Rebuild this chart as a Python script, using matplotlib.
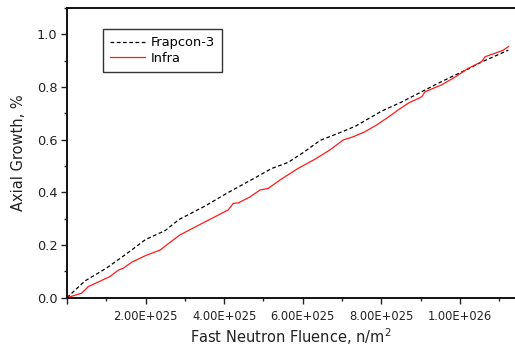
import matplotlib
matplotlib.use("Agg")
import matplotlib.pyplot as plt
from matplotlib.ticker import MultipleLocator, FuncFormatter

# Fast neutron fluence in units of 1e25 n/m^2, axial growth in %
frapcon_fluence = [0, 0.45, 1.0, 1.5, 2.0, 2.5, 2.85, 3.5, 4.06, 4.5, 4.83, 5.2,
                   5.63, 6.0, 6.45, 7.0, 7.35, 8.0, 8.5, 9.0, 9.36, 9.8, 10.2,
                   10.55, 10.9, 11.23]
frapcon_growth = [0, 0.063, 0.112, 0.165, 0.221, 0.255, 0.297, 0.347, 0.396,
                  0.432, 0.459, 0.49, 0.514, 0.55, 0.598, 0.63, 0.652, 0.708,
                  0.742, 0.78, 0.808, 0.84, 0.868, 0.895, 0.918, 0.94]

infra_fluence = [0, 0.37, 0.54, 1.09, 1.31, 1.43, 1.65, 2.0, 2.37, 2.62, 2.87,
                 3.5, 4.1, 4.23, 4.36, 4.66, 4.91, 5.12, 5.42, 5.88, 6.3, 6.69,
                 7.03, 7.3, 7.58, 7.88, 8.15, 8.43, 8.7, 9.03, 9.11, 9.53, 9.9,
                 10.21, 10.55, 10.64, 10.89, 11.1, 11.23]
infra_growth = [0, 0.017, 0.042, 0.08, 0.105, 0.112, 0.135, 0.16, 0.181, 0.21,
                0.238, 0.287, 0.333, 0.358, 0.36, 0.383, 0.409, 0.415, 0.447,
                0.491, 0.525, 0.561, 0.599, 0.612, 0.63, 0.656, 0.683, 0.713,
                0.74, 0.763, 0.782, 0.808, 0.84, 0.871, 0.896, 0.915, 0.928,
                0.94, 0.953]

SCALE = 1e25
x_frap = [v * SCALE for v in frapcon_fluence]
x_infra = [v * SCALE for v in infra_fluence]

plt.rcParams['font.family'] = ['DejaVu Sans']

fig = plt.figure(figsize=(5.15, 3.47), dpi=100)
ax = fig.add_axes([67 / 515, (347 - 297.7) / 347, (515 - 67) / 515, (297.7 - 8) / 347])

ax.plot(x_frap, frapcon_growth, color='black', lw=0.9, ls=(0, (3, 2)),
        label='Frapcon-3')
ax.plot(x_infra, infra_growth, color='#ff1a1a', lw=0.9, label='Infra')

ax.set_xlim(0, 11.4 * SCALE)
ax.set_ylim(0, 1.1)

ax.xaxis.set_major_locator(MultipleLocator(2 * SCALE))
ax.xaxis.set_minor_locator(MultipleLocator(1 * SCALE))
ax.yaxis.set_major_locator(MultipleLocator(0.2))
ax.yaxis.set_minor_locator(MultipleLocator(0.1))


def sci_fmt(v, pos):
    if v <= 0:
        return ''
    exp = 0
    m = v
    while m >= 10:
        m /= 10
        exp += 1
    return f'{m:.2f}E+{exp:03d}'


ax.xaxis.set_major_formatter(FuncFormatter(sci_fmt))
ax.yaxis.set_major_formatter(FuncFormatter(lambda v, p: f'{v:.1f}'))

ax.tick_params(axis='both', which='major', direction='out', length=4,
               width=1, color='#222222')
ax.tick_params(axis='both', which='minor', direction='out', length=2.5,
               width=1, color='#222222')
ax.tick_params(axis='x', labelsize=8.3, pad=5, labelcolor='#222222')
ax.tick_params(axis='y', labelsize=9.3, pad=3, labelcolor='#222222')

for side in ('left', 'top', 'bottom'):
    ax.spines[side].set_linewidth(1.4)
    ax.spines[side].set_color('#111111')
ax.spines['right'].set_visible(False)

ax.set_xlabel('Fast Neutron Fluence, n/m$^2$', fontsize=10.5, labelpad=2,
              color='#222222')
ax.set_ylabel('Axial Growth, %', fontsize=10.5, labelpad=8, color='#222222')

leg = ax.legend(loc='upper left', bbox_to_anchor=(36 / 448, (297.7 - 29) / 289.7),
                fontsize=9.4, frameon=True, fancybox=False, handlelength=2.7,
                handletextpad=0.4, borderpad=0.55, labelspacing=0.2,
                borderaxespad=0)
leg.get_frame().set_edgecolor('black')
leg.get_frame().set_linewidth(1.0)

fig.savefig('out.png', dpi=100)
